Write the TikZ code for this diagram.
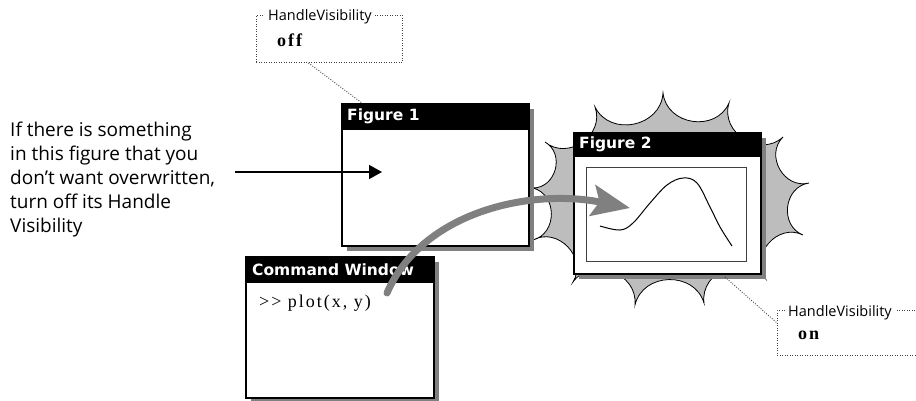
\documentclass[tikz,border=0pt]{standalone}
\usepackage{fontspec}
\newfontfamily\notefont{Open Sans}
\newfontfamily\barfont{DejaVu Sans}
\newfontfamily\codefont{Liberation Serif}[LetterSpace=11]
\usetikzlibrary{positioning,arrows.meta,shadows}

\begin{document}
\begin{tikzpicture}[
  x=1pt, y=-1pt,
  win/.style={draw, line width=2pt, fill=white, anchor=north west,
              minimum width=187pt, minimum height=141pt,
              drop shadow={shadow xshift=5pt, shadow yshift=-5pt, fill=black!50, opacity=1}},
  bar/.style={fill=black},
  bartext/.style={font=\barfont\bfseries\fontsize{15.5}{18}\selectfont, text=white,
                  anchor=west, inner sep=0pt},
  note/.style={font=\notefont\fontsize{19}{24}\selectfont, align=left, anchor=west, inner sep=0pt},
  tag/.style={font=\notefont\fontsize{14.5}{17}\selectfont, fill=white,
              inner xsep=3pt, inner ysep=1pt, anchor=west},
  value/.style={font=\codefont\bfseries\fontsize{18}{20}\selectfont, anchor=west, inner sep=0pt},
  code/.style={font=\codefont\fontsize{18}{20}\selectfont, anchor=west, inner sep=0pt},
  callout/.style={draw=black!75, line width=0.9pt, dash pattern=on 0.9pt off 1.6pt},
  burst/.style={draw=black, line width=0.8pt, fill=black!26},
  pointer/.style={-{Triangle[length=13pt,width=14pt]}, line width=1.6pt},
  sweep/.style={-{Stealth[length=38pt,width=31pt,inset=7pt]}, line width=7pt,
                draw=black!50, line cap=round},
]
\clip (0,0) rectangle (916,400);

% starburst behind figure 2
\draw[burst] (663,93)
  \foreach \x/\y in {729/103, 783/137, 809/183, 803/235, 765/278, 704/303,
                     635/305, 573/282, 533/240, 533/188, 545/142, 595/107, 663/93}
  { to[bend right=75, looseness=1.25] (\x,\y) } -- cycle;

% figure 2
\node[win] (fig2) at (573,132) {};
\fill[bar] (fig2.north west) rectangle ([yshift=-25pt]fig2.north east);
\node[bartext] (fig2title) at ([xshift=6pt,yshift=-12.5pt]fig2.north west) {Figure 2};
\node[draw=black!75, line width=0.8pt, anchor=north west,
      minimum width=160pt, minimum height=94pt] (axes) at (586,167) {};
\draw[line width=1pt] plot[smooth, tension=0.6] coordinates
  {(600,226) (620,230) (633,223) (650,203) (667,185) (683,178) (697,183)
   (710,207) (720,227) (732,246)};

% figure 1
\node[win, minimum height=142pt] (fig1) at (341,103) {};
\fill[bar] (fig1.north west) rectangle ([yshift=-27pt]fig1.north east);
\node[bartext] (fig1title) at ([xshift=6pt,yshift=-13.5pt]fig1.north west) {Figure 1};

% command window
\node[win, minimum width=188pt] (cmd) at (245,256) {};
\fill[bar] (cmd.north west) rectangle ([yshift=-27pt]cmd.north east);
\node[bartext] (cmdtitle) at ([xshift=7pt,yshift=-13.5pt]cmd.north west) {Command Window};
\node[code] (call) at (259,303) {{>}{>} plot(x, y)};

% note on the left
\node[note] (note) at (10,180) {If there is something\\in this figure that you\\don’t want overwritten,\\turn off its Handle\\Visibility};
\coordinate (arrowtail) at (235,172);
\coordinate (fig1target) at (382,172);
\draw[pointer] (arrowtail) -- (fig1target);

% callouts
\node[callout, anchor=north west, minimum width=146pt, minimum height=47pt] (offbox) at (256,15) {};
\node[tag] (offtag) at (265,17) {HandleVisibility};
\node[value] (offval) at (277,40) {off};
\draw[callout] ([xshift=-21pt]offbox.south) -- ([xshift=21pt]fig1.north west);

\node[callout, anchor=north west, minimum width=170pt, minimum height=45pt] (onbox) at (777,310) {};
\node[tag] (ontag) at (785,313) {HandleVisibility};
\node[value] (onval) at (798,335) {on};
\draw[callout] ([xshift=-37pt,yshift=-2pt]fig2.south east) -- ([yshift=-13pt]onbox.north west);

% plot call goes to figure 2
\coordinate (plotcall) at (387,293);
\coordinate (plotdraw) at (630,208);
\draw[sweep] (plotcall) .. controls (422,212) and (530,188) .. (plotdraw);
\end{tikzpicture}
\end{document}
